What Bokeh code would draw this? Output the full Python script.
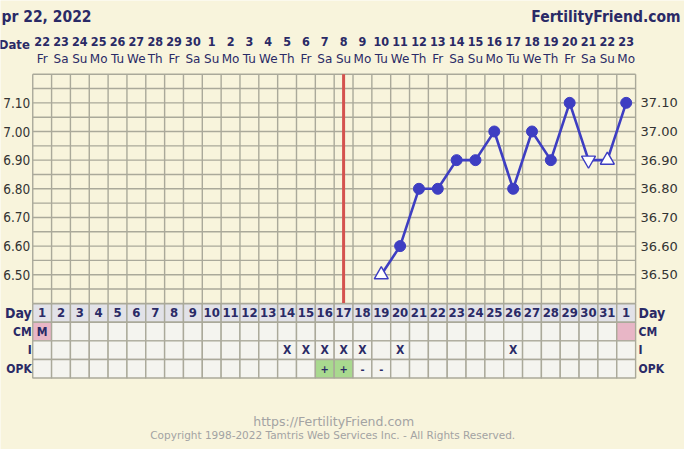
from bokeh.plotting import figure
from bokeh.models import Range1d
from bokeh.core.properties import value
from bokeh.embed import file_html
from bokeh.resources import INLINE

# ---------------- data ----------------
dates = ["22", "23", "24", "25", "26", "27", "28", "29", "30",
         "1", "2", "3", "4", "5", "6", "7", "8", "9", "10", "11", "12", "13",
         "14", "15", "16", "17", "18", "19", "20", "21", "22", "23"]
weekdays = ["Fr", "Sa", "Su", "Mo", "Tu", "We", "Th"] * 5
weekdays = weekdays[:32]
cycle_day_labels = [str(d) for d in range(1, 32)] + ["1"]

temp_days = [19, 20, 21, 22, 23, 24, 25, 26, 27, 28, 29, 30, 31, 32]
temps = [36.50, 36.60, 36.80, 36.80, 36.90, 36.90, 37.00, 36.80, 37.00,
         36.90, 37.10, 36.90, 36.90, 37.10]
temp_marker = ["triangle", "circle", "circle", "circle", "circle", "circle",
               "circle", "circle", "circle", "circle", "circle",
               "inverted_triangle", "triangle", "circle"]

cm_days = [1, 32]
cm_labels = ["M", ""]
intercourse_days = [14, 15, 16, 17, 18, 20, 26]
opk_days = [16, 17, 18, 19]
opk_values = ["+", "+", "-", "-"]
opk_positive_days = [16, 17]
ovulation_day = 17

temp_ticks = [36.50, 36.60, 36.70, 36.80, 36.90, 37.00, 37.10]
temp_min, temp_max, temp_step = 36.40, 37.20, 0.05
table_rows = ["Day", "CM", "I", "OPK"]

title_left = "pr 22, 2022"
title_right = "FertilityFriend.com"
footer_url = "https://FertilityFriend.com"
footer_copy = "Copyright 1998-2022 Tamtris Web Services Inc. - All Rights Reserved."

# ---------------- layout (reference pixel geometry) ----------------
REF_W, REF_H = 700, 465
GRID_LEFT, COL_W = 33.0, 19.28
T_REF, T_REF_Y, PX_PER_DEG = 37.10, 106.0, 296.7
TABLE_TOP, ROW_H = 314.0, 19.25
n_days = len(dates)


def px_to_day(X):
    return 0.5 + (X - GRID_LEFT) / COL_W


def px_to_temp(Y):
    return T_REF - (Y - T_REF_Y) / PX_PER_DEG


def px_to_row(Y):
    return -(Y - TABLE_TOP) / ROW_H


BG = "#f8f4dc"
NAVY = "#2a2a66"
GRIDC = "#aaa99a"
LINEC = "#3e3ec2"
BOLD = value("DejaVu Sans Condensed")
NORM = value("DejaVu Sans")

p = figure(width=684, height=449, output_backend="svg", toolbar_location=None,
           x_range=Range1d(px_to_day(0), px_to_day(REF_W)),
           y_range=Range1d(px_to_temp(REF_H), px_to_temp(0)),
           x_axis_location=None, y_axis_location=None,
           min_border=0, background_fill_color=BG, border_fill_color=BG,
           outline_line_color=None)
p.grid.visible = False
p.extra_y_ranges = {"table": Range1d(px_to_row(REF_H), px_to_row(0))}

# ---------------- temperature grid ----------------
x_lo, x_hi = 0.5, n_days + 0.5
vx = [i + 0.5 for i in range(n_days + 1)]
p.segment(x0=vx, y0=[temp_min] * len(vx), x1=vx, y1=[temp_max] * len(vx),
          line_color=GRIDC, line_width=1.4)
n_h = int(round((temp_max - temp_min) / temp_step)) + 1
hy = [temp_min + i * temp_step for i in range(n_h)]
p.segment(x0=[x_lo] * n_h, y0=hy, x1=[x_hi] * n_h, y1=hy,
          line_color=GRIDC, line_width=1.4)

# ovulation line
p.segment(x0=[ovulation_day], y0=[temp_min], x1=[ovulation_day], y1=[temp_max],
          line_color="#d4524e", line_width=3)

# ---------------- temperature line ----------------
p.line(temp_days, temps, line_color=LINEC, line_width=2.6)
for mk in ["circle", "triangle", "inverted_triangle"]:
    xs = [d for d, m in zip(temp_days, temp_marker) if m == mk]
    ys = [t for t, m in zip(temps, temp_marker) if m == mk]
    if mk == "circle":
        p.scatter(xs, ys, marker="circle", size=11, fill_color=LINEC,
                  line_color=LINEC)
    else:
        p.scatter(xs, ys, marker=mk, size=14, fill_color="white",
                  line_color=LINEC, line_width=1.4)

# temperature labels
p.text(x=[px_to_day(30.5)] * len(temp_ticks), y=temp_ticks,
       text=[f"{t:.2f}"[1:] for t in temp_ticks],
       text_font=BOLD, text_font_size="13.5px", text_color="#333333",
       text_align="right", text_baseline="middle")
p.text(x=[px_to_day(655)] * len(temp_ticks), y=temp_ticks,
       text=[f"{t:.2f}" for t in temp_ticks],
       text_font=NORM, text_font_size="13px", text_color="#333333",
       text_align="left", text_baseline="middle")

# ---------------- header ----------------
days_x = list(range(1, n_days + 1))
p.text(x=[px_to_day(1)], y=[px_to_temp(17)], text=[title_left],
       text_font=BOLD, text_font_style="bold", text_font_size="15.5px",
       text_color=NAVY, text_align="left", text_baseline="middle")
p.text(x=[px_to_day(696)], y=[px_to_temp(17)], text=[title_right],
       text_font=BOLD, text_font_style="bold", text_font_size="15.5px",
       text_color=NAVY, text_align="right", text_baseline="middle")
p.text(x=[px_to_day(30)], y=[px_to_temp(46)], text=["Date"],
       text_font=BOLD, text_font_style="bold", text_font_size="13px",
       text_color=NAVY, text_align="right", text_baseline="middle")
p.text(x=days_x, y=[px_to_temp(42.5)] * n_days, text=dates,
       text_font=BOLD, text_font_style="bold", text_font_size="12.5px",
       text_color=NAVY, text_align="center", text_baseline="middle")
p.text(x=days_x, y=[px_to_temp(61)] * n_days, text=weekdays,
       text_font=NORM, text_font_size="12px",
       text_color=NAVY, text_align="center", text_baseline="middle")

# ---------------- table ----------------
row_fill = ["#e2e2e8", "#f4f4ef", "#f4f4ef", "#f4f4ef"]
cell_x, cell_y, cell_c = [], [], []
for r in range(len(table_rows)):
    for d in days_x:
        c = row_fill[r]
        if r == 1 and d in cm_days:
            c = "#e8b6c6"
        if r == 3 and d in opk_positive_days:
            c = "#a9d98f"
        cell_x.append(d)
        cell_y.append(-(r + 0.5))
        cell_c.append(c)
p.rect(x=cell_x, y=cell_y, width=1, height=1, fill_color=cell_c,
       line_color=GRIDC, line_width=1.4, y_range_name="table")

p.text(x=days_x, y=[-0.5] * n_days, text=cycle_day_labels,
       text_font=BOLD, text_font_style="bold", text_font_size="13px",
       text_color=NAVY, text_align="center", text_baseline="middle",
       y_range_name="table")
p.text(x=cm_days, y=[-1.5] * len(cm_days), text=cm_labels,
       text_font=BOLD, text_font_style="bold", text_font_size="12px",
       text_color=NAVY, text_align="center", text_baseline="middle",
       y_range_name="table")
p.text(x=intercourse_days, y=[-2.5] * len(intercourse_days),
       text=["X"] * len(intercourse_days),
       text_font=BOLD, text_font_style="bold", text_font_size="12px",
       text_color=NAVY, text_align="center", text_baseline="middle",
       y_range_name="table")
p.text(x=opk_days, y=[-3.5] * len(opk_days), text=opk_values,
       text_font=BOLD, text_font_style="bold", text_font_size="11px",
       text_color=NAVY, text_align="center", text_baseline="middle",
       y_range_name="table")

row_y = [-(r + 0.5) for r in range(len(table_rows))]
p.text(x=[px_to_day(32)] * 4, y=row_y, text=table_rows,
       text_font=BOLD, text_font_style="bold",
       text_font_size=["14px", "12px", "12px", "12px"],
       text_color=NAVY, text_align="right", text_baseline="middle",
       y_range_name="table")
p.text(x=[px_to_day(653)] * 4, y=row_y, text=table_rows,
       text_font=BOLD, text_font_style="bold",
       text_font_size=["14px", "12px", "12px", "12px"],
       text_color=NAVY, text_align="left", text_baseline="middle",
       y_range_name="table")

# ---------------- footer ----------------
p.text(x=[px_to_day(341)], y=[px_to_temp(436)], text=[footer_url],
       text_font=NORM, text_font_size="12.5px", text_color="#a3a3a3",
       text_align="center", text_baseline="middle")
p.text(x=[px_to_day(340)], y=[px_to_temp(450.5)], text=[footer_copy],
       text_font=NORM, text_font_size="10.5px", text_color="#a3a3a3",
       text_align="center", text_baseline="middle")

open("out.html", "w").write(file_html(p, INLINE))
